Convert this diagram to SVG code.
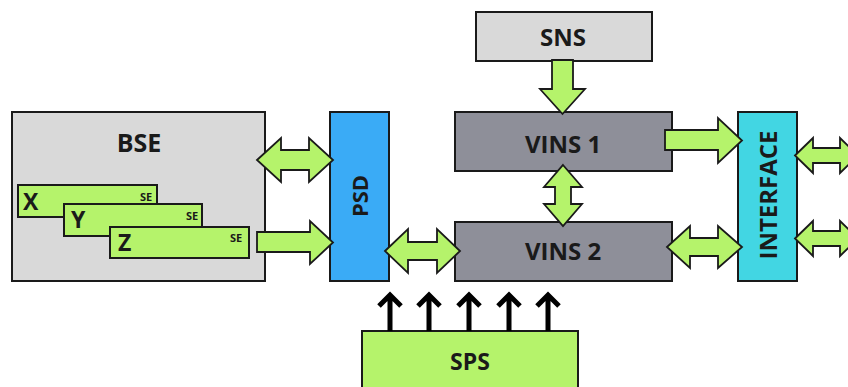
<svg xmlns="http://www.w3.org/2000/svg" width="848" height="387" viewBox="0 0 848 387">
<style>
.box{stroke:#1a1a1a;stroke-width:2}
.lt{fill:#d9d9d9}
.dk{fill:#8e8f99}
.gr{fill:#b5f36b}
.ar{fill:#b5f36b;stroke:#1a1a1a;stroke-width:1.8;stroke-linejoin:miter}
.t{font-family:"Open Sans","DejaVu Sans",sans-serif;font-weight:bold;fill:#1a1a1a;text-anchor:middle}
.l{font-family:"Open Sans","DejaVu Sans",sans-serif;font-weight:bold;fill:#1a1a1a;font-size:23px}
.se{font-family:"Open Sans","DejaVu Sans",sans-serif;font-weight:bold;fill:#1a1a1a;font-size:11px;text-anchor:middle}
.up{fill:none;stroke:#000;stroke-width:5}
</style>
<rect width="848" height="387" fill="#ffffff"/>
<g id="BSE">
<rect class="box lt" x="12" y="112" width="253" height="169"/>
<text class="t" x="139" y="152" font-size="25">BSE</text>
</g>
<g id="X">
<rect class="box gr" x="18" y="185" width="139" height="32"/>
<text class="l" x="23" y="210">X</text>
<text class="se" x="146" y="201">SE</text>
</g>
<g id="Y">
<rect class="box gr" x="64" y="204" width="138" height="32"/>
<text class="l" x="71" y="228">Y</text>
<text class="se" x="192" y="220">SE</text>
</g>
<g id="Z">
<rect class="box gr" x="110" y="227" width="139" height="31"/>
<text class="l" x="118" y="251">Z</text>
<text class="se" x="236" y="242">SE</text>
</g>
<g id="PSD">
<rect class="box" fill="#3aabf6" x="330" y="112" width="59" height="169"/>
<text class="t" transform="translate(368,196) rotate(-90)" font-size="22">PSD</text>
</g>
<g id="SNS">
<rect class="box lt" x="476" y="12" width="176" height="49"/>
<text class="t" x="563" y="46" font-size="24">SNS</text>
</g>
<g id="VINS1">
<rect class="box dk" x="455" y="112" width="217" height="59"/>
<text class="t" x="563" y="153" font-size="24">VINS 1</text>
</g>
<g id="VINS2">
<rect class="box dk" x="455" y="222" width="217" height="59"/>
<text class="t" x="563" y="260" font-size="24">VINS 2</text>
</g>
<g id="INTERFACE">
<rect class="box" fill="#42d6e3" x="738" y="112" width="59" height="169"/>
<text class="t" transform="translate(777,195) rotate(-90)" font-size="24">INTERFACE</text>
</g>
<g id="SPS">
<rect class="box gr" x="362" y="331" width="216" height="70"/>
<text class="t" x="470" y="370" font-size="23">SPS</text>
</g>
<g id="connectors">
<path class="ar" d="M257,160 L281,138 L281,150 L309,150 L309,138 L333,160 L309,182 L309,170 L281,170 L281,182 Z"/>
<path class="ar" d="M257,232 L310,232 L310,221 L333,242.5 L310,264 L310,252 L257,252 Z"/>
<path class="ar" d="M385,251 L408,229 L408,242 L437,242 L437,229 L460,251 L437,273 L437,260 L408,260 L408,273 Z"/>
<path class="ar" d="M552,60 L573,60 L573,89 L585,89 L562.5,114 L540,89 L552,89 Z"/>
<path class="ar" d="M563,165 L582,187 L571,187 L571,204 L582,204 L563,226 L544,204 L555,204 L555,187 L544,187 Z"/>
<path class="ar" d="M665,130 L718,130 L718,118 L742,140.5 L718,163 L718,150 L665,150 Z"/>
<path class="ar" d="M667,247 L690,226 L690,238 L718,238 L718,226 L742,247 L718,268 L718,256 L690,256 L690,268 Z"/>
<path class="ar" d="M795,155.5 L813,138 L813,148 L840,148 L840,138 L858,155.5 L840,173 L840,163 L813,163 L813,173 Z"/>
<path class="ar" d="M795,238.5 L813,221 L813,231 L840,231 L840,221 L858,238.5 L840,256 L840,246 L813,246 L813,256 Z"/>
<g class="up">
<path d="M390,331 V296 M379,306 L390,295 L401,306"/>
<path d="M429,331 V296 M418,306 L429,295 L440,306"/>
<path d="M469,331 V296 M458,306 L469,295 L480,306"/>
<path d="M509,331 V296 M498,306 L509,295 L520,306"/>
<path d="M548,331 V296 M537,306 L548,295 L559,306"/>
</g>
</g>
</svg>
